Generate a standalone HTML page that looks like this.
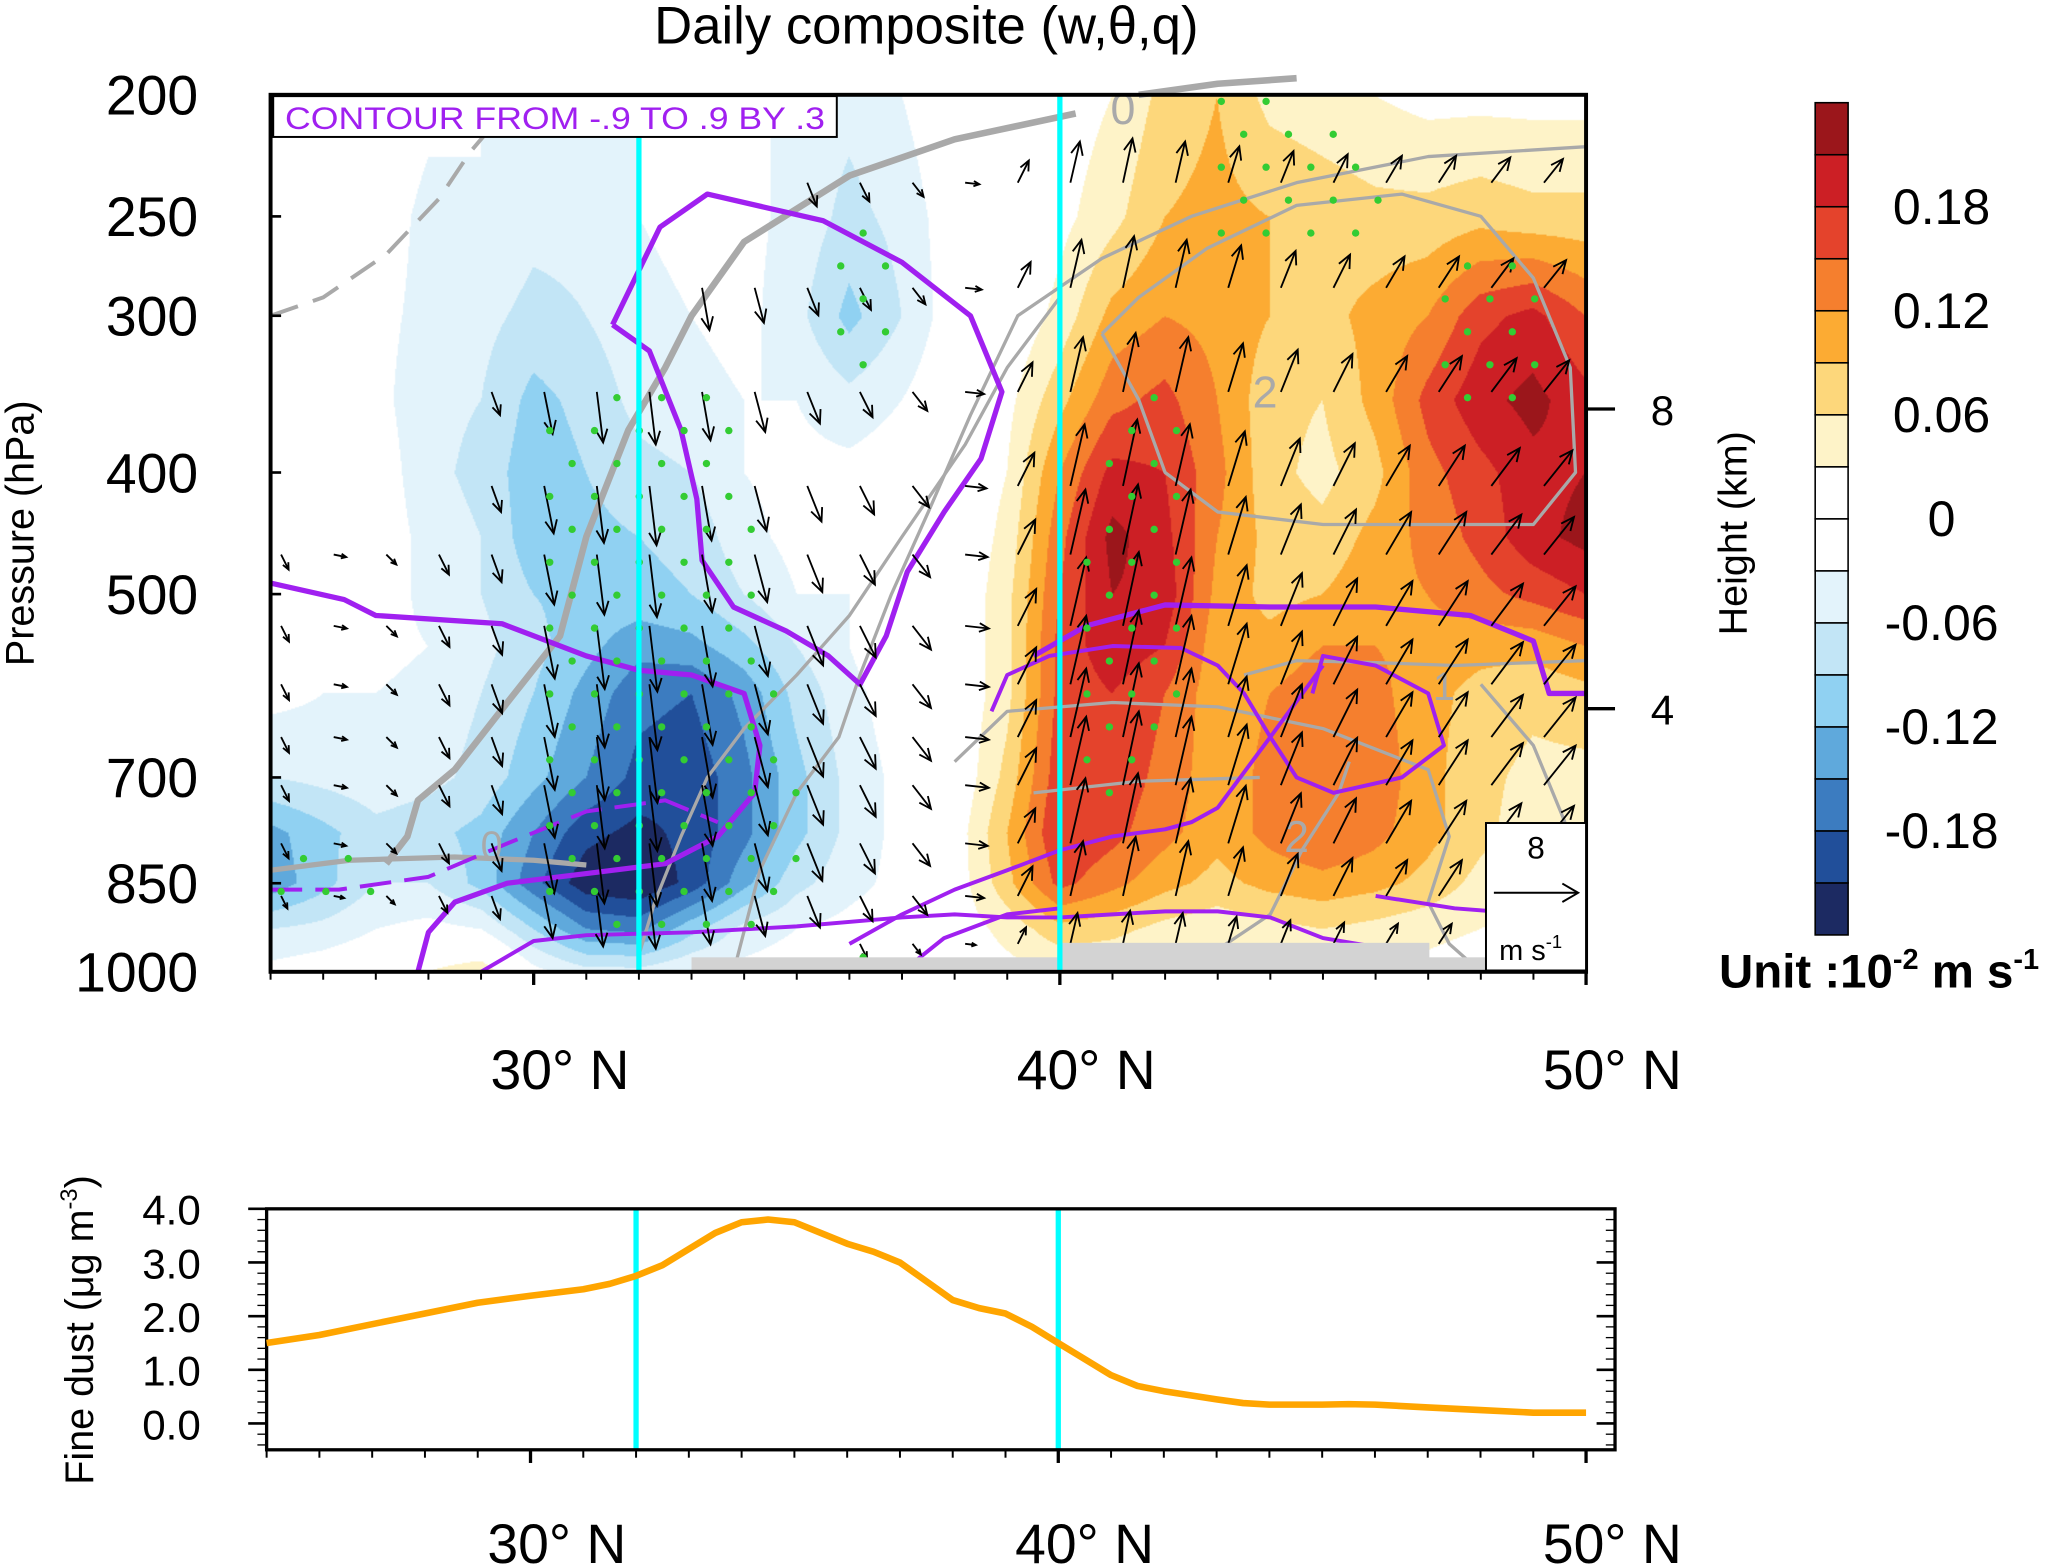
<!DOCTYPE html>
<html><head><meta charset="utf-8">
<style>
html,body{margin:0;padding:0;background:#fff;}
#wrap{position:relative;width:2066px;height:1567px;overflow:hidden;}
#field{position:absolute;left:270.1px;top:94.9px;width:1316.3px;height:877.5px;}
#svg{position:absolute;left:0;top:0;}
text{font-family:"Liberation Sans",Arial,sans-serif;}
</style></head>
<body>
<div id="wrap">
<canvas id="field" width="999" height="666"></canvas>
<svg id="svg" width="2066" height="1567" viewBox="0 0 1568 1190" xmlns="http://www.w3.org/2000/svg">
<g id="lines"></g>
<g id="arrows"></g>
<g id="dots"></g>
<g id="static"></g>
</svg>
</div>
<script>
// ---------- data ----------
const lats = [25,26,27,28,29,30,31,32,33,34,35,36,37,38,39,40,41,42,43,44,45,46,47,48,49,50];
const levels = [200,250,300,350,400,450,500,550,600,700,775,850,925,1000];
const w200 = [0,0,0,-0.02,-0.03,-0.04,-0.04,-0.03,-0.02,-0.02,-0.04,-0.05,-0.03,0,0,0.01,0.03,0.07,0.09,0.05,0.04,0.03,0.02,0.02,0.02,0.02];
const w250 = [0,0,-0.01,-0.04,-0.03,-0.05,-0.05,-0.03,-0.02,-0.02,-0.04,-0.07,-0.05,-0.01,0,0.02,0.05,0.09,0.1,0.09,0.08,0.07,0.07,0.08,0.07,0.07];
const w300 = [0,0,-0.02,-0.04,-0.05,-0.07,-0.06,-0.04,-0.03,-0.02,-0.05,-0.1,-0.06,-0.01,0,0.04,0.1,0.12,0.11,0.09,0.08,0.1,0.12,0.17,0.19,0.15];
const w350 = [0,-0.01,-0.02,-0.05,-0.06,-0.1,-0.08,-0.05,-0.04,-0.03,-0.03,-0.05,-0.03,0,0.02,0.08,0.14,0.16,0.12,0.07,0.06,0.1,0.16,0.2,0.22,0.19];
const w400 = [0,0.03,-0.01,-0.05,-0.07,-0.11,-0.09,-0.07,-0.06,-0.03,-0.02,-0.02,-0.01,0,0.03,0.12,0.19,0.18,0.13,0.07,0.05,0.08,0.14,0.17,0.2,0.21];
const w450 = [0,0,-0.01,-0.04,-0.06,-0.11,-0.1,-0.09,-0.08,-0.04,-0.02,-0.02,-0.01,0,0.04,0.14,0.22,0.19,0.12,0.08,0.07,0.1,0.13,0.16,0.2,0.22];
const w500 = [0,0,-0.01,-0.04,-0.06,-0.09,-0.1,-0.1,-0.09,-0.06,-0.03,-0.03,0,0,0.05,0.15,0.21,0.2,0.11,0.08,0.09,0.11,0.12,0.14,0.16,0.18];
const w550 = [-0.01,-0.01,-0.02,-0.03,-0.05,-0.08,-0.11,-0.14,-0.13,-0.1,-0.06,-0.03,0,0,0.05,0.16,0.2,0.18,0.1,0.1,0.12,0.12,0.11,0.1,0.1,0.12];
const w600 = [-0.02,-0.03,-0.03,-0.04,-0.06,-0.09,-0.13,-0.17,-0.18,-0.14,-0.08,-0.04,-0.01,0,0.05,0.16,0.18,0.15,0.1,0.12,0.14,0.13,0.1,0.08,0.07,0.08];
const w700 = [-0.06,-0.05,-0.04,-0.05,-0.07,-0.11,-0.15,-0.19,-0.2,-0.16,-0.1,-0.05,-0.02,0,0.07,0.17,0.17,0.14,0.1,0.13,0.15,0.14,0.1,0.07,0.05,0.05];
const w775 = [-0.13,-0.1,-0.07,-0.08,-0.1,-0.15,-0.2,-0.22,-0.2,-0.16,-0.1,-0.05,-0.02,0.01,0.09,0.18,0.16,0.13,0.1,0.13,0.15,0.13,0.1,0.07,0.04,0.03];
const w850 = [-0.14,-0.1,-0.06,-0.06,-0.1,-0.17,-0.23,-0.24,-0.2,-0.13,-0.07,-0.04,-0.02,0.01,0.08,0.16,0.13,0.1,0.08,0.1,0.11,0.1,0.08,0.05,0.03,0.02];
const w925 = [-0.06,-0.05,-0.03,-0.02,-0.03,-0.09,-0.15,-0.16,-0.1,-0.05,-0.03,-0.02,-0.01,0.01,0.04,0.08,0.07,0.05,0.04,0.05,0.06,0.05,0.04,0.03,0.02,0.01];
const w1000 = [-0.02,-0.01,0,0.03,0.05,-0.02,-0.05,-0.05,-0.03,-0.02,-0.01,0,0,0.01,0.02,0.03,0.03,0.02,0.02,0.02,0.02,0.02,0.02,0.01,0.01,0.01];
const wRows = [w200,w250,w300,w350,w400,w450,w500,w550,w600,w700,w775,w850,w925,w1000];
const cbColors = ["#1c2a62","#214f9a","#3c7cc0","#5fa9dc","#90d1f2","#c2e5f6","#e3f3fb","#ffffff","#ffffff","#fef3c8","#fdd77b","#fcab33","#f57f2e","#e4432c","#cc1f25","#9b161b"];
const cbLabels = ["-0.18","-0.12","-0.06","0","0.06","0.12","0.18"];
const cbLabelVals = [-0.18,-0.12,-0.06,0,0.06,0.12,0.18];
const presTicks = [200,250,300,400,500,700,850,1000];
const heightTicks = ["8","4"];
const heightTickP = [356,617];
// wind arrows: per-latitude horizontal/vertical components (plot px units)
const arrowLats = [25.2,26.2,27.2,28.2,29.2,30.2,31.2,32.2,33.2,34.2,35.2,36.2,37.2,38.2,39.2,40.2,41.2,42.2,43.2,44.2,45.2,46.2,47.2,48.2,49.2];
const arrowU = [6,10,8,8,8,8,6,6,8,10,12,12,14,18,14,12,12,12,14,16,18,20,22,24,24];
const arrowV = [12,2,8,16,22,40,48,50,46,38,30,24,18,2,-28,-52,-56,-52,-46,-40,-36,-34,-34,-32,-30];
const arrowP = [235,285,345,410,465,530,590,650,710,790,870,950];
const arrowScale = [0.6,0.7,0.8,0.9,0.95,1,1,1,1,0.95,0.8,0.45];
// dust curve
const dustLat = [25,26,27,28,29,30,31,31.5,32,32.5,33,33.5,34,34.5,35,35.5,36,36.5,37,37.5,38,38.5,39,39.5,40,40.5,41,41.5,42,43,43.5,44,45,45.5,46,47,48,49,50];
const dustVal = [1.5,1.65,1.85,2.05,2.25,2.38,2.5,2.6,2.75,2.95,3.25,3.55,3.75,3.8,3.75,3.55,3.35,3.2,3.0,2.65,2.3,2.15,2.05,1.8,1.5,1.2,0.9,0.7,0.6,0.45,0.38,0.35,0.35,0.36,0.35,0.3,0.25,0.2,0.2];
const dustTicks = [0,1,2,3,4];
const dustTickLabels = ["0.0","1.0","2.0","3.0","4.0"];
const latTicks = [30,40,50];
const latTickLabels = ["30°  N","40°  N","50°  N"];

// ---------- axes ----------
const X0=205,X1=1204,Y0=72,Y1=738;
const xs = lat => X0 + (lat-25)/(50-25)*(X1-X0);
const ys = p => Y1 - Math.log(1000/p)/Math.log(5)*(Y1-Y0);
const xb = lat => 202 + (lat-25)/(50-25)*(1204-202);
const yb = v => 1081 - v*40.75;
const NS="http://www.w3.org/2000/svg";
function mk(tag, attrs, parent){const e=document.createElementNS(NS,tag);for(const k in attrs)e.setAttribute(k,attrs[k]);parent.appendChild(e);return e;}

// ---------- filled field ----------
(function(){
  const c=document.getElementById('field'),ctx=c.getContext('2d');
  const W=c.width,H=c.height,img=ctx.createImageData(W,H);
  const rgb=cbColors.map(h=>[parseInt(h.substr(1,2),16),parseInt(h.substr(3,2),16),parseInt(h.substr(5,2),16)]);
  const lnl=levels.map(p=>Math.log(p));
  for(let py=0;py<H;py++){
    const p=200*Math.exp(py/(H-1)*Math.log(5)); const lp=Math.log(p);
    let j=0; while(j<levels.length-2 && lnl[j+1]<lp) j++;
    const fy=Math.min(1,Math.max(0,(lp-lnl[j])/(lnl[j+1]-lnl[j])));
    for(let px=0;px<W;px++){
      const lat=25+px/(W-1)*25; let i=Math.min(24,Math.floor(lat-25)); const fx=lat-25-i;
      const a=wRows[j][i],b=wRows[j][i+1],cc=wRows[j+1][i],d=wRows[j+1][i+1];
      const v=(a*(1-fx)+b*fx)*(1-fy)+(cc*(1-fx)+d*fx)*fy;
      let k=Math.floor(v/0.03)+8; k=Math.max(0,Math.min(15,k));
      const o=(py*W+px)*4; img.data[o]=rgb[k][0];img.data[o+1]=rgb[k][1];img.data[o+2]=rgb[k][2];img.data[o+3]=255;
    }
  }
  ctx.putImageData(img,0,0);
})();

// ---------- contour lines ----------
const greyLines = [
 {w:5,dash:"",pts:[[27.2,820],[27.6,780],[27.8,730],[28.5,690],[29.5,610],[30.5,540],[31,450],[31.8,370],[32.5,330],[33,300],[34,262],[36,232],[38,217],[40.3,207]]},
 {w:5,dash:"",pts:[[41.5,200],[43,196],[44.5,194]]},
 {w:4,dash:"",pts:[[25,830],[26.5,815],[28.5,810],[30,815],[31,822]]},
 {w:3,dash:"22,12",pts:[[25,300],[26,290],[27.2,268],[28.2,242],[28.8,222],[29.5,205]]},
 {w:2.5,dash:"",pts:[[33.8,1000],[34.3,830],[35,720],[35.8,650],[36.2,580],[36.8,500],[37.5,430],[38.3,360],[39.2,300],[40.8,270],[42.5,250],[44.5,235],[47,224],[50,220]]},
 {w:2.5,dash:"",pts:[[32,970],[32.3,880],[32.8,780],[33.3,700],[34,640],[35,580],[36,520],[37,450],[38.2,380],[39,330],[40,290]]},
 {w:2.5,dash:"",pts:[[40.8,310],[41.5,350],[42,400],[43,430],[45,440],[47,440],[49,440],[49.8,400],[49.7,330],[49,280],[48,250],[46.5,240],[44.5,245],[42.8,265],[41.5,290],[40.8,310]]},
 {w:2.5,dash:"",pts:[[38,680],[39,620],[41,610],[43,615],[45,640],[47,690],[47.4,780],[47,880],[47.4,950],[48,1000]]},
 {w:2.5,dash:"",pts:[[39.5,720],[41.5,705],[43.8,700]]},
 {w:2.5,dash:"",pts:[[43.5,580],[44.5,565],[46,567],[47.5,570],[50,565]]},
 {w:2.5,dash:"",pts:[[43,960],[44,900],[44.6,800],[45.3,720],[45.5,680]]},
 {w:2.5,dash:"",pts:[[48,590],[49,660],[49.6,760]]}
];
const purpleLines = [
 {w:4,dash:"",pts:[[31.5,305],[32.4,255],[33.3,240],[35.5,252],[37,272],[38.3,300],[38.9,345],[38.5,390],[37.8,430],[37.1,480],[36.7,540],[36.2,590],[35.6,560],[34.8,535],[33.8,512],[33.2,470],[33.1,420],[32.8,370],[32.2,320],[31.5,305]]},
 {w:4,dash:"",pts:[[25,490],[26.4,505],[27,520],[29.4,528],[31,560],[32,575],[33,580],[34,600],[34.3,660],[34.2,720],[33.5,780],[32.5,820],[31,835],[29.5,850],[28.5,880],[28,930],[27.8,1000]]},
 {w:4,dash:"",pts:[[39.5,560],[40.5,530],[42,510],[44,512],[46,512],[47.8,520],[49,545],[49.3,600],[50,600]]},
 {w:3,dash:"",pts:[[38.7,620],[39,580],[39.8,560],[41,550],[42.3,552],[43,570],[43.5,600],[44,650],[44.5,700],[45.2,720],[46.5,700],[47.3,660],[47,600],[46,570],[45,560],[44.8,600]]},
 {w:3,dash:"",pts:[[36,950],[37,900],[38,860],[39,830],[40,800],[41,780],[42,770],[42.5,760],[43,740],[44,650],[45,570]]},
 {w:3,dash:"",pts:[[29,1000],[30,945],[31,935],[33,930],[35,920],[37,905],[38,900],[39,905],[40,905],[41,900],[42,895],[43,895],[44,905],[45,940],[46.3,960]]},
 {w:3,dash:"",pts:[[46,870],[47.5,890],[49,900],[50,895]]},
 {w:3,dash:"",pts:[[37,1000],[37.8,940],[39,900],[40,890]]},
 {w:3,dash:"24,10",pts:[[25,860],[26.3,860],[28,840],[29.5,790],[31,745],[32.5,730],[33.5,760]]}
];
const gL=document.getElementById('lines');
greyLines.forEach((L,i)=>{
  const e=mk('polyline',{points:L.pts.map(q=>xs(q[0]).toFixed(1)+','+ys(q[1]).toFixed(1)).join(' '),fill:'none',stroke:'#a9a9a9','stroke-width':L.w,'stroke-dasharray':L.dash,'stroke-linejoin':'round'},gL);
  
  
});
purpleLines.forEach((L,i)=>{
  const e=mk('polyline',{points:L.pts.map(q=>xs(q[0]).toFixed(1)+','+ys(q[1]).toFixed(1)).join(' '),fill:'none',stroke:'#a020f0','stroke-width':L.w,'stroke-dasharray':L.dash,'stroke-linejoin':'round'},gL);
  
  
});
[["0",41.2,205,34],["0",29.2,790,30],["2",43.9,345,34],["2",44.5,780,34],["1",47.3,590,30]].forEach((t,i)=>{
  const e=mk('text',{x:xs(t[1]),y:ys(t[2])+12,'font-size':t[3],fill:'#a9a9a9','text-anchor':'middle'},gL);
  e.textContent=t[0];
  
  
});

// ---------- arrows ----------
const gA=document.getElementById('arrows');
arrowP.forEach((p,r)=>{
  arrowLats.forEach((lat,c)=>{
    if(lat<29 && p<450) return;
    if(lat<33 && p<330) return;
    if(lat<35 && p<250) return;
    if(p>900 && lat<36) return;
    const x=xs(lat),y=ys(p),u=arrowU[c]*arrowScale[r],v=arrowV[c]*arrowScale[r];
    const x2=x+u,y2=y+v,L=Math.hypot(u,v)||1,ux=u/L,uy=v/L,h=Math.min(10,L*0.4);
    const g=mk('g',{},gA);
    
    
    mk('line',{x1:x,y1:y,x2:x2,y2:y2,stroke:'#000','stroke-width':1.4},g);
    mk('polyline',{points:`${x2-h*ux-h*0.45*uy},${y2-h*uy+h*0.45*ux} ${x2},${y2} ${x2-h*ux+h*0.45*uy},${y2-h*uy-h*0.45*ux}`,fill:'none',stroke:'#000','stroke-width':1.4},g);
  });
});

// ---------- significance dots ----------
const dotRegions = [
 [[25,780],[27,780],[27,910],[25,910]],
 [[30.2,370],[31.4,330],[33.6,335],[34.4,450],[34.6,600],[35.2,700],[35.1,900],[33,950],[31,930],[30,860],[30.1,600]],
 [[35.6,255],[36.9,255],[36.9,345],[35.6,345]],
 [[41.3,330],[42.6,330],[42.6,450],[42.2,620],[41.2,730],[40.2,720],[40.2,500],[40.6,400]],
 [[43,196],[46,215],[46.2,260],[43,262]],
 [[47.2,265],[49.2,265],[49.2,370],[47.2,370]],
 [[35.6,925],[36.6,925],[36.6,980],[35.6,980]]
];
function inPoly(x,y,poly){let ins=false;for(let i=0,j=poly.length-1;i<poly.length;j=i++){const xi=poly[i][0],yi=poly[i][1],xj=poly[j][0],yj=poly[j][1];if(((yi>y)!=(yj>y))&&(x<(xj-xi)*(y-yi)/(yj-yi)+xi))ins=!ins;}return ins;}
const gD=document.getElementById('dots');
for(let row=0;row*25<666;row++){
  const y=Y0+5+row*25, p=1000*Math.exp(-(Y1-y)/(Y1-Y0)*Math.log(5));
  for(let x=X0+8+(row%2)*17;x<X1;x+=34){
    const lat=25+(x-X0)/40;
    if(dotRegions.some(R=>inPoly(lat,p,R))){
      const d=mk('circle',{cx:x,cy:y,r:2.8,fill:'#33cc33'},gD);
      
      
    }
  }
}

// ---------- static items ----------
const S=document.getElementById('static');
function T(txt,x,y,size,opts,name){const e=mk('text',Object.assign({x:x,y:y,'font-size':size,fill:'#000'},opts||{}),S);e.textContent=txt;return e;}
[[33,805,727],[40,1085,716],[47,1128,727]].forEach((s,i)=>{
  const r=mk('rect',{x:xs(s[0]),y:s[2],width:s[1]-xs(s[0]),height:Y1-s[2],fill:'#d3d3d3'},S);
  
  
});
[32,40].forEach(l=>{
  const a=mk('line',{x1:xs(l),x2:xs(l),y1:Y0,y2:Y1,stroke:'#00ffff','stroke-width':4},S);
  
  
  const b=mk('line',{x1:xb(l),x2:xb(l),y1:918,y2:1101,stroke:'#00ffff','stroke-width':4},S);
  
  
});
const fr=mk('rect',{x:X0,y:Y0,width:X1-X0,height:Y1-Y0,fill:'none',stroke:'#000','stroke-width':3},S);

const cb=mk('rect',{x:207,y:73,width:428,height:31,fill:'#fff',stroke:'#000','stroke-width':1.5},S);

T('CONTOUR FROM -.9 TO .9 BY .3',421,98,24,{fill:'#a020f0','text-anchor':'middle','textLength':410,'lengthAdjust':'spacingAndGlyphs'},'contour-info-text');
const rv=mk('rect',{x:1128,y:625,width:76,height:112,fill:'#fff',stroke:'#000','stroke-width':1.5},S);

T('8',1166,652,24,{'text-anchor':'middle'},'reference-vector-value');
const ra=mk('g',{},S);
mk('line',{x1:1134,y1:678,x2:1197,y2:678,stroke:'#000','stroke-width':1.5},ra);
mk('polyline',{points:'1186,671 1198,678 1186,685',fill:'none',stroke:'#000','stroke-width':1.5},ra);
const ru=T('m s',1138,729,22,{},'reference-vector-unit');
const rsup=mk('tspan',{dy:-9,'font-size':14},ru);rsup.textContent='-1';
T('Daily  composite (w,θ,q)',703,33,40,{'text-anchor':'middle'},'chart-title');
presTicks.forEach(p=>{
  T(String(p),150,ys(p)+15,42,{'text-anchor':'end'},'pressure-tick-label');
  const t=mk('line',{x1:X0,x2:X0+8,y1:ys(p),y2:ys(p),stroke:'#000','stroke-width':2},S);
  
});
T('Pressure (hPa)',0,0,30,{'text-anchor':'middle',transform:'translate(25,405) rotate(-90)'},'y-axis-title');
heightTickP.forEach((p,i)=>{
  const t=mk('line',{x1:X1,x2:X1+22,y1:ys(p),y2:ys(p),stroke:'#000','stroke-width':2.5},S);
  
  T(heightTicks[i],1262,ys(p)+12,32,{'text-anchor':'middle'},'height-tick-label');
});
T('Height (km)',0,0,30,{'text-anchor':'middle',transform:'translate(1326,405) rotate(-90)'},'right-axis-title');
for(let l=25;l<=50;l++){
  const maj=latTicks.includes(l);
  const t=mk('line',{x1:xs(l),x2:xs(l),y1:Y1,y2:Y1+(maj?10:6),stroke:'#000','stroke-width':maj?2.5:1.5},S);
  
  const t2=mk('line',{x1:xb(l),x2:xb(l),y1:1101,y2:1101+(maj?10:6),stroke:'#000','stroke-width':maj?2.5:1.5},S);
  
}
latTicks.forEach((l,i)=>{
  T(latTickLabels[i],xs(l)+20,827,42,{'text-anchor':'middle'},'lat-tick-label');
  T(latTickLabels[i],xb(l)+20,1187,42,{'text-anchor':'middle'},'lat-tick-label-lower');
});
cbColors.forEach((c,i)=>{
  const y=710-(i+1)*(632/16);
  const r=mk('rect',{x:1378,y:y,width:25,height:632/16,fill:c,stroke:'#000','stroke-width':1.2},S);
  
});
cbLabelVals.forEach((v,i)=>{
  const y=710-(v+0.24)/0.48*632;
  T(cbLabels[i],1474,y+13,38,{'text-anchor':'middle'},'colorbar-label');
});
const un=T('Unit :10',1305,750,36,{'font-weight':'bold'},'colorbar-unit');
const s1=mk('tspan',{dy:-14,'font-size':22},un);s1.textContent='-2';
const s2=mk('tspan',{dy:14},un);s2.textContent=' m s';
const s3=mk('tspan',{dy:-14,'font-size':22},un);s3.textContent='-1';
const lf=mk('rect',{x:202,y:918,width:1024,height:183,fill:'none',stroke:'#000','stroke-width':2.5},S);

dustTicks.forEach((v,i)=>{
  T(dustTickLabels[i],152,yb(v)+12,32,{'text-anchor':'end'},'dust-tick-label');
  [[202,188],[1226,1212]].forEach(a=>{const t=mk('line',{x1:a[0],x2:a[1],y1:yb(v),y2:yb(v),stroke:'#000','stroke-width':2},S);});
});
for(let v=-0.4;v<4;v+=0.2){ if(Math.abs(v-Math.round(v))<0.01) continue;
  [[202,195],[1226,1219]].forEach(a=>{const t=mk('line',{x1:a[0],x2:a[1],y1:yb(v),y2:yb(v),stroke:'#000','stroke-width':1},S);});
}
const dt=T('Fine dust (μg m',0,0,30,{'text-anchor':'middle',transform:'translate(70,1010) rotate(-90)'},'dust-axis-title');
const d1=mk('tspan',{dy:-12,'font-size':18},dt);d1.textContent='-3';
const d2=mk('tspan',{dy:12},dt);d2.textContent=')';
const dl=mk('polyline',{points:dustLat.map((l,i)=>xb(l).toFixed(1)+','+yb(dustVal[i]).toFixed(1)).join(' '),fill:'none',stroke:'#ffa500','stroke-width':5,'stroke-linejoin':'round'},S);


</script>
</body></html>
